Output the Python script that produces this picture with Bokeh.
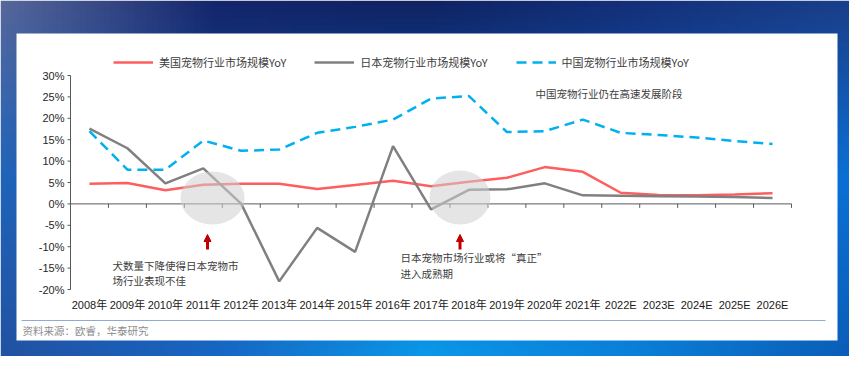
import numpy as np
from bokeh.plotting import figure
from bokeh.models import Legend, LegendItem, Arrow, NormalHead
from bokeh.core.properties import value
from bokeh.embed import file_html
from bokeh.resources import INLINE

# ---------------- data ----------------
years = ["2008年", "2009年", "2010年", "2011年", "2012年", "2013年", "2014年",
         "2015年", "2016年", "2017年", "2018年", "2019年", "2020年", "2021年",
         "2022E", "2023E", "2024E", "2025E", "2026E"]
us_yoy = [4.7, 4.9, 3.2, 4.5, 4.7, 4.7, 3.5, 4.4, 5.4, 4.1, 5.2, 6.1, 8.6, 7.5,
          2.6, 2.1, 2.0, 2.2, 2.5]
jp_yoy = [17.6, 13.0, 4.8, 8.3, 0.0, -18.1, -5.6, -11.2, 13.5, -1.3, 3.3, 3.4,
          4.8, 2.0, 1.9, 1.8, 1.7, 1.6, 1.4]
cn_yoy = [17.0, 8.0, 8.0, 14.8, 12.4, 12.7, 16.6, 18.0, 19.7, 24.6, 25.2, 16.8,
          17.0, 19.7, 16.6, 16.1, 15.5, 14.7, 14.0]
y_ticks = [-20, -15, -10, -5, 0, 5, 10, 15, 20, 25, 30]
y_labels = [f"{v}%" for v in y_ticks]
series_names = ["美国宠物行业市场规模YoY", "日本宠物行业市场规模YoY", "中国宠物行业市场规模YoY"]
note1 = ["犬数量下降使得日本宠物市", "场行业表现不佳"]
note2 = ["日本宠物市场行业或将“真正”", "进入成熟期"]
note3 = "中国宠物行业仍在高速发展阶段"
source_text = "资料来源：欧睿，华泰研究"

xs = list(range(len(years)))

# ---------------- layout helpers (page pixels -> data) ----------------
W, H = 849, 356                  # canvas; page offset 8px
AX_L, AX_R = 78, 799             # plot area in page px (x)
AX_T, AX_B = 83, 297             # plot area in page px (y) : 30% .. -20%
PX = (AX_R - AX_L) / 19.0
PY = (AX_B - AX_T) / 50.0
def cx(page_x):
    return -0.5 + (page_x - AX_L) / PX
def cy(page_y):
    return 30 - (page_y - AX_T) / PY

CJK = "Noto Sans CJK SC"
LAT = "Liberation Sans, Noto Sans CJK SC"

p = figure(width=W, height=H, output_backend="svg", toolbar_location=None,
           x_range=(cx(8), cx(8 + W)), y_range=(cy(8 + H), cy(8)),
           x_axis_type=None, y_axis_type=None,
           min_border=0, min_border_left=0, min_border_right=0,
           min_border_top=0, min_border_bottom=0,
           background_fill_color="white", border_fill_color="#143b88",
           outline_line_color=None)
p.xgrid.visible = False
p.ygrid.visible = False

# ---------- blue gradient background ----------
def hex2rgb(h):
    h = h.lstrip("#")
    return [int(h[i:i + 2], 16) for i in (0, 2, 4)]
grid_colors = [  # rows: top, middle, bottom ; cols: left -> right
    ["#56679c", "#13266b", "#0f2363", "#14307a", "#1a3f8a"],
    ["#1f64ba", "#1850a0", "#1060c0", "#0a62c4", "#0a70d6"],
    ["#2252a2", "#1766c4", "#0a98e8", "#0a80d8", "#0a5eb8"],
]
G = np.array([[hex2rgb(c) for c in row] for row in grid_colors], dtype=float)
nyi, nxi = 60, 140
gy = np.linspace(0, 2, nyi)
gx = np.linspace(0, 4, nxi)
img = np.zeros((nyi, nxi, 3))
for ch in range(3):
    tmp = np.array([np.interp(gx, np.arange(5), G[r, :, ch]) for r in range(3)])
    for j in range(nxi):
        img[:, j, ch] = np.interp(gy, np.arange(3), tmp[:, j])
img = img[::-1]  # row 0 at bottom
rgba = np.zeros((nyi, nxi), dtype=np.uint32)
view = rgba.view(dtype=np.uint8).reshape((nyi, nxi, 4))
view[:, :, 0] = img[:, :, 0].astype(np.uint8)
view[:, :, 1] = img[:, :, 1].astype(np.uint8)
view[:, :, 2] = img[:, :, 2].astype(np.uint8)
view[:, :, 3] = 255
p.image_rgba(image=[rgba], x=cx(8), y=cy(8 + H), dw=cx(8 + W) - cx(8),
             dh=cy(8) - cy(8 + H), level="image")

# white panel
p.quad(left=[cx(24)], right=[cx(845)], top=[cy(41)], bottom=[cy(348)],
       fill_color="white", line_alpha=0)
# separator above the source
p.line([cx(29), cx(833)], [cy(328), cy(328)], line_color="#8faad3", line_width=1.2)

# ---------- axes (drawn) ----------
p.line([-0.5, -0.5], [y_ticks[0], y_ticks[-1]], line_color="#595959", line_width=1)
p.segment(x0=[cx(AX_L - 3)] * len(y_ticks), x1=[-0.5] * len(y_ticks),
          y0=y_ticks, y1=y_ticks, line_color="#595959", line_width=1)
p.text(x=[cx(AX_L - 6)] * len(y_ticks), y=y_ticks, text=y_labels,
       text_font=value(LAT), text_font_size="11px", text_color="#262626",
       text_align="right", text_baseline="middle")

p.line([-0.5, 18.5], [0, 0], line_color="#595959", line_width=1)
bounds = [i + 0.5 for i in xs]
p.segment(x0=bounds, x1=bounds, y0=[0] * len(bounds), y1=[-4 / PY] * len(bounds),
          line_color="#595959", line_width=1)
p.text(x=xs, y=[cy(312)] * len(xs), text=years,
       text_font=value(LAT), text_font_size="11px", text_color="#1a1a1a",
       text_align="center", text_baseline="middle")

# ---------- series ----------
r_us = p.line(xs, us_yoy, line_color="#ff5e5e", line_width=2.5)
r_jp = p.line(xs, jp_yoy, line_color="#808080", line_width=2.5)
r_cn = p.line(xs, cn_yoy, line_color="#00b0f0", line_width=2.5, line_dash="10 6")

# highlight ellipses (over the lines)
p.ellipse(x=[cx(220), cx(467.5)], y=[cy(205.5), cy(205)],
          width=[64 / PX, 61 / PX], height=[53 / PY, 54 / PY],
          fill_color="#cfcfcf", fill_alpha=0.55, line_alpha=0)

# red arrows
for ax in (cx(215), cx(467.5)):
    p.add_layout(Arrow(end=NormalHead(size=7, fill_color="#c00000", line_color="#c00000"),
                       x_start=ax, y_start=cy(257), x_end=ax, y_end=cy(242),
                       line_color="#c00000", line_width=3))

# notes
p.text(x=[cx(120), cx(120)], y=[cy(273), cy(288)], text=note1,
       text_font=value(CJK), text_font_size="10.5px", text_color="#3d3d3d",
       text_baseline="middle")
p.text(x=[cx(408), cx(408)], y=[cy(265), cy(281)], text=note2,
       text_font=value(CJK), text_font_size="10.5px", text_color="#3d3d3d",
       text_baseline="middle")
p.text(x=[cx(543)], y=[cy(101)], text=[note3],
       text_font=value(CJK), text_font_size="10.5px", text_color="#3d3d3d",
       text_baseline="middle")
p.text(x=[cx(30)], y=[cy(338)], text=[source_text],
       text_font=value(CJK), text_font_size="10.5px", text_color="#8c8c8c",
       text_baseline="middle")

# legend (frame = canvas)
legend = Legend(items=[LegendItem(label=series_names[0], renderers=[r_us]),
                       LegendItem(label=series_names[1], renderers=[r_jp]),
                       LegendItem(label=series_names[2], renderers=[r_cn])],
                orientation="horizontal", location=(113, H - 70),
                glyph_width=40, glyph_height=14, label_standoff=6, spacing=28,
                padding=0, margin=0, border_line_color=None,
                background_fill_alpha=0, label_text_font=CJK,
                label_text_font_size="11px", label_text_color="#3d3d3d")
p.add_layout(legend, "center")

open("out.html", "w").write(file_html(p, INLINE))
